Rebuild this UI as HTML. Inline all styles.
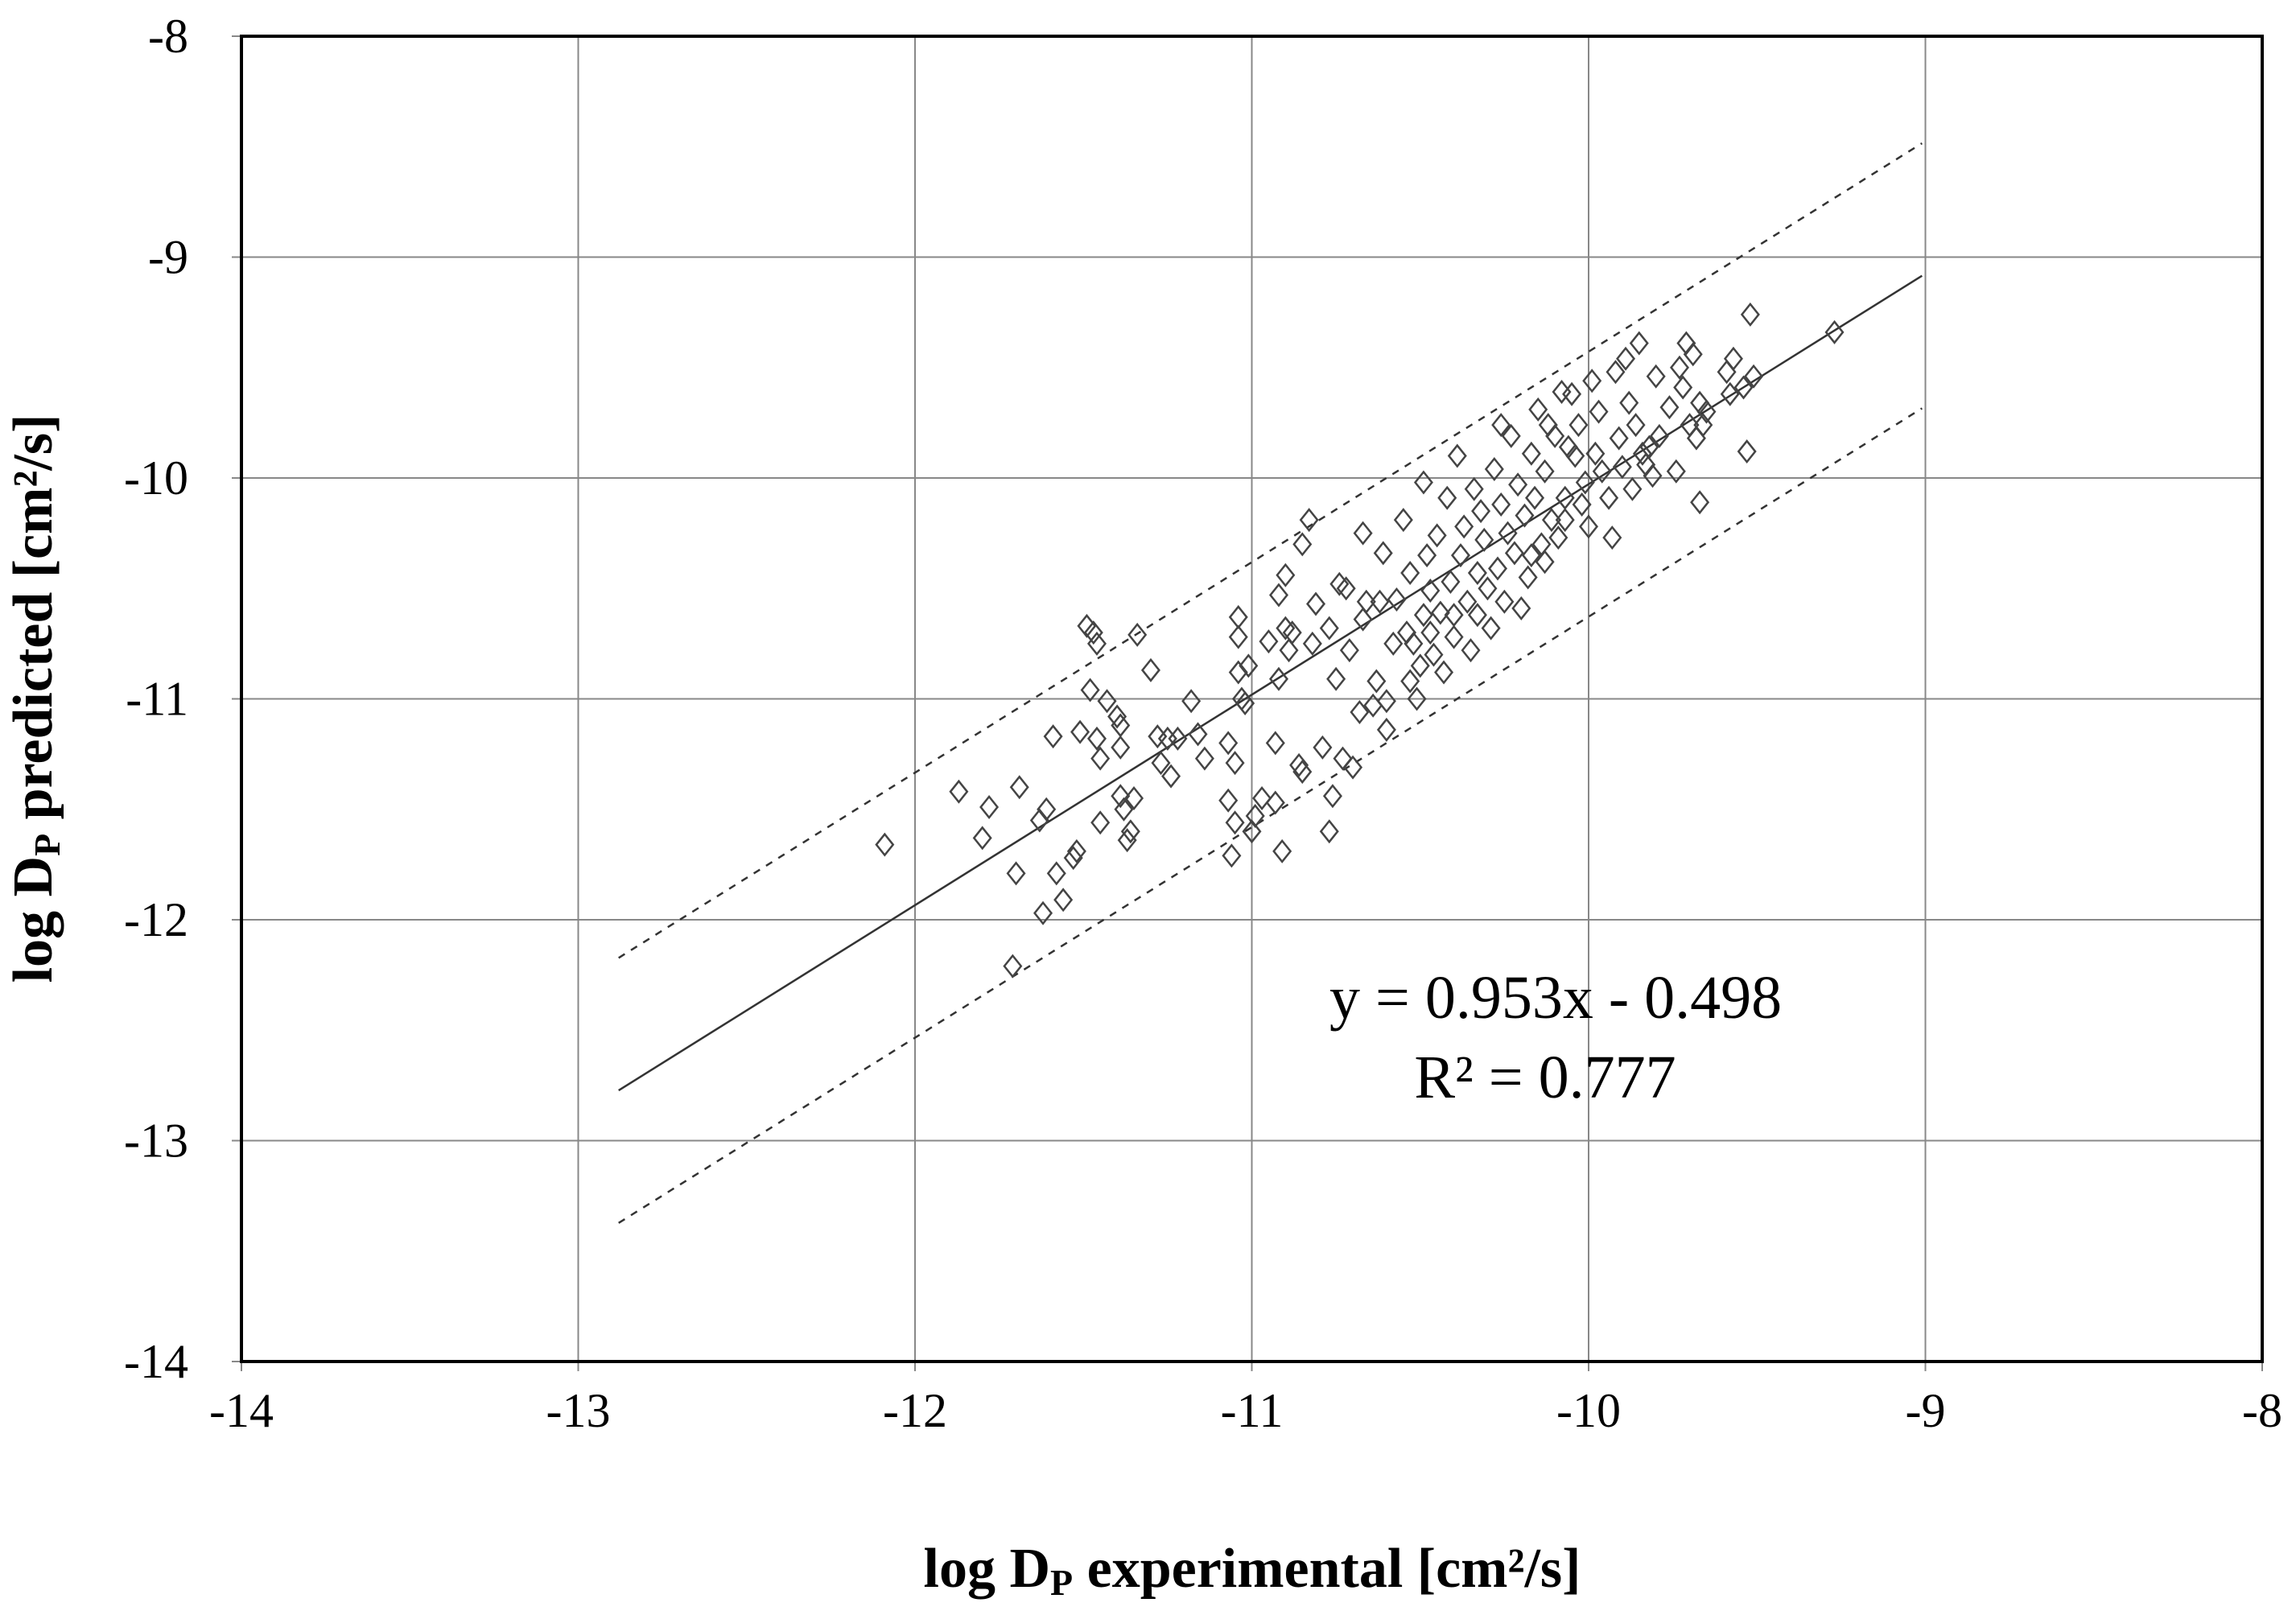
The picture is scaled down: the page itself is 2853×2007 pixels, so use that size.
<!DOCTYPE html>
<html><head><meta charset="utf-8"><style>
html,body{margin:0;padding:0;background:#fff}
svg{display:block;font-family:"Liberation Serif",serif}
</style></head><body>
<svg id="chart" width="2853" height="2007" viewBox="0 0 2853 2007" xmlns="http://www.w3.org/2000/svg">
<g id="grid"></g>
<g id="lines"></g>
<g id="points"></g>
<rect x="300" y="45" width="2511" height="1647" fill="none" stroke="#000" stroke-width="4"/>
<g id="ticks" font-size="60" fill="#000"></g>
<text x="1652" y="1265" font-size="76">y = 0.953x - 0.498</text>
<text x="1920" y="1364" font-size="76" text-anchor="middle">R² = 0.777</text>
<text x="1556" y="1972" font-size="70" font-weight="bold" text-anchor="middle">log D<tspan font-size="46" dy="10">P</tspan><tspan dy="-10"> experimental [cm²/s]</tspan></text>
<text transform="translate(64,868) rotate(-90)" font-size="70" font-weight="bold" text-anchor="middle">log D<tspan font-size="46" dy="10">P</tspan><tspan dy="-10"> predicted [cm²/s]</tspan></text>
</svg>
<script>
const xTicks=[-14,-13,-12,-11,-10,-9,-8];
const yTicks=[-14,-13,-12,-11,-10,-9,-8];
const fitSlope=0.953, fitIntercept=-0.498, bandOffset=0.6;
const fitRange=[-12.88,-9.01];
const xs=[-12.09,-11.87,-11.78,-11.8,-11.69,-11.70,-11.71,-11.63,-11.61,-11.62,-11.58,-11.56,-11.59,-11.53,-11.52,-11.51,-11.49,-11.47,-11.46,-11.48,-11.46,-11.45,-11.45,-11.43,-11.40,-11.39,-11.39,-11.38,-11.37,-11.36,-11.35,-11.39,-11.34,-11.30,-11.28,-11.27,-11.25,-11.24,-11.22,-11.18,-11.16,-11.14,-11.07,-11.07,-11.06,-11.05,-11.05,-11.04,-11.04,-11.04,-11.03,-11.02,-11.01,-11.0,-10.99,-10.97,-10.95,-10.93,-10.93,-10.92,-10.91,-10.92,-10.90,-10.90,-10.89,-10.88,-10.86,-10.85,-10.85,-10.83,-10.82,-10.81,-10.79,-10.77,-10.77,-10.76,-10.75,-10.74,-10.73,-10.72,-10.71,-10.70,-10.68,-10.67,-10.67,-10.66,-10.64,-10.63,-10.62,-10.61,-10.60,-10.60,-10.58,-10.57,-10.55,-10.54,-10.53,-10.53,-10.52,-10.51,-10.50,-10.49,-10.49,-10.48,-10.47,-10.47,-10.46,-10.45,-10.44,-10.43,-10.42,-10.41,-10.40,-10.40,-10.39,-10.38,-10.37,-10.36,-10.35,-10.34,-10.33,-10.33,-10.32,-10.31,-10.30,-10.29,-10.28,-10.27,-10.26,-10.26,-10.25,-10.24,-10.23,-10.22,-10.21,-10.20,-10.19,-10.18,-10.17,-10.17,-10.16,-10.15,-10.14,-10.13,-10.13,-10.12,-10.11,-10.10,-10.09,-10.08,-10.07,-10.07,-10.06,-10.05,-10.04,-10.03,-10.02,-10.01,-10.0,-9.99,-9.98,-9.97,-9.96,-9.94,-9.93,-9.92,-9.91,-9.90,-9.89,-9.88,-9.87,-9.86,-9.85,-9.84,-9.83,-9.82,-9.81,-9.80,-9.79,-9.76,-9.74,-9.73,-9.72,-9.71,-9.70,-9.69,-9.68,-9.67,-9.67,-9.66,-9.65,-9.59,-9.58,-9.57,-9.54,-9.53,-9.52,-9.51,-9.27];
const ys=[-11.66,-11.42,-11.49,-11.63,-11.40,-11.79,-12.21,-11.55,-11.50,-11.97,-11.79,-11.91,-11.17,-11.72,-11.69,-11.15,-10.67,-10.70,-10.75,-10.96,-11.18,-11.27,-11.56,-11.01,-11.08,-11.12,-11.44,-11.50,-11.64,-11.60,-11.45,-11.22,-10.71,-10.87,-11.17,-11.29,-11.18,-11.35,-11.18,-11.01,-11.16,-11.27,-11.20,-11.46,-11.71,-11.56,-11.29,-10.63,-10.72,-10.88,-11.0,-11.02,-10.85,-11.60,-11.53,-11.45,-10.74,-11.47,-11.20,-10.91,-11.69,-10.53,-10.44,-10.68,-10.78,-10.70,-11.30,-11.33,-10.30,-10.19,-10.75,-10.57,-11.22,-10.68,-11.60,-11.44,-10.91,-10.48,-11.27,-10.50,-10.78,-11.31,-11.06,-10.64,-10.25,-10.56,-11.03,-10.92,-10.56,-10.34,-11.14,-11.01,-10.75,-10.55,-10.19,-10.70,-10.92,-10.43,-10.75,-11.0,-10.85,-10.02,-10.62,-10.35,-10.70,-10.51,-10.80,-10.26,-10.61,-10.88,-10.09,-10.47,-10.62,-10.72,-9.90,-10.35,-10.22,-10.56,-10.78,-10.05,-10.43,-10.62,-10.15,-10.28,-10.50,-10.68,-9.96,-10.41,-10.12,-9.76,-10.56,-10.25,-9.81,-10.34,-10.03,-10.59,-10.17,-10.45,-10.35,-9.89,-10.09,-9.69,-10.30,-10.38,-9.97,-9.76,-10.19,-9.81,-10.27,-9.61,-10.09,-10.19,-9.86,-9.62,-9.90,-9.76,-10.12,-10.02,-10.22,-9.56,-9.89,-9.70,-9.97,-10.09,-10.27,-9.52,-9.82,-9.95,-9.46,-9.66,-10.05,-9.76,-9.39,-9.89,-9.94,-9.86,-9.99,-9.54,-9.81,-9.68,-9.97,-9.50,-9.59,-9.39,-9.76,-9.44,-9.82,-10.11,-9.66,-9.76,-9.70,-9.52,-9.62,-9.46,-9.59,-9.88,-9.26,-9.54,-9.34];
const NS="http://www.w3.org/2000/svg";
const L=300,R=2811,T=45,B=1692;
function sx(v){return L+(v-(-14))/6*(R-L);}
function sy(v){return B-(v-(-14))/6*(B-T);}
function mk(tag,attrs,parent){const e=document.createElementNS(NS,tag);for(const k in attrs)e.setAttribute(k,attrs[k]);parent.appendChild(e);return e;}
const grid=document.getElementById('grid'),ticks=document.getElementById('ticks'),lines=document.getElementById('lines'),pts=document.getElementById('points');
xTicks.forEach(v=>{
  const g=mk('line',{x1:sx(v),x2:sx(v),y1:T,y2:B+12,stroke:'#888','stroke-width':2},grid);
  
  
  const t=mk('text',{x:sx(v),y:1773,'text-anchor':'middle'},ticks);t.textContent=v;
  
  
});
yTicks.forEach(v=>{
  const g=mk('line',{x1:L-12,x2:R,y1:sy(v),y2:sy(v),stroke:'#888','stroke-width':2},grid);
  
  
  const t=mk('text',{x:234,y:sy(v)+20,'text-anchor':'end'},ticks);t.textContent=v;
  
  
});
[[0,'none','fit-line'],[bandOffset,'9,9','upper-band'],[-bandOffset,'9,9','lower-band']].forEach(([o,d,n])=>{
  const x0=fitRange[0],x1=fitRange[1];
  const ln=mk('line',{x1:sx(x0),y1:sy(fitSlope*x0+fitIntercept+o),x2:sx(x1),y2:sy(fitSlope*x1+fitIntercept+o),stroke:'#333','stroke-width':2.5,'stroke-dasharray':d},lines);
  
  
});
xs.forEach((x,i)=>{
  const cx=sx(x),cy=sy(ys[i]),r=13;
  const p=mk('polygon',{points:`${cx},${cy-r} ${cx+r*0.8},${cy} ${cx},${cy+r} ${cx-r*0.8},${cy}`,fill:'none',stroke:'#444','stroke-width':2.5},pts);
  
  
});
</script>
</body></html>
